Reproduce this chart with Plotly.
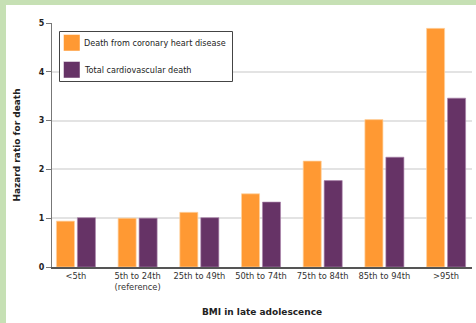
import plotly.graph_objects as go

categories = ["<5th", "5th to 24th<br>(reference)", "25th to 49th", "50th to 74th",
              "75th to 84th", "85th to 94th", ">95th"]
chd = [0.94, 1.00, 1.12, 1.50, 2.17, 3.02, 4.89]
cvd = [1.01, 1.00, 1.01, 1.33, 1.77, 2.25, 3.46]
series_names = ["Death from coronary heart disease", "Total cardiovascular death"]
colors = ["#FF9933", "#663366"]
y_ticks = [0, 1, 2, 3, 4, 5]

FONT = "DejaVu Sans"
W, H = 476, 323
ML, MR, MT, MB = 52, 4, 23, 56
pw, ph = W - ML - MR, H - MT - MB

def px2paper_x(px):
    return (px - ML) / pw

def px2paper_y(py):
    return (H - MB - py) / ph

fig = go.Figure()
fig.add_trace(go.Bar(x=list(range(len(categories))), y=chd, name=series_names[0],
                     marker=dict(color=colors[0], line=dict(color="rgba(255,210,160,0.9)", width=0.8)),
                     showlegend=False))
fig.add_trace(go.Bar(x=list(range(len(categories))), y=cvd, name=series_names[1],
                     marker=dict(color=colors[1], line=dict(color="rgba(170,130,170,0.8)", width=0.8)),
                     showlegend=False))

def rect(x0, y0, x1, y1, fill, line_color=None, lw=0, layer="above"):
    return dict(type="rect", xref="paper", yref="paper",
                x0=px2paper_x(x0), x1=px2paper_x(x1),
                y0=px2paper_y(y1), y1=px2paper_y(y0),
                fillcolor=fill, line=dict(color=line_color or fill, width=lw), layer=layer)

shapes = [rect(6, 5, W + 5, H + 5, "white", layer="below"),
          rect(59.5, 31.5, 232.5, 81.5, "white", "#444", 1)]
annotations = []
sw_y = [34.5, 61.5]
for i, name in enumerate(series_names):
    shapes.append(rect(63.5, sw_y[i], 80, sw_y[i] + 16.5, colors[i],
                       "rgba(255,255,255,0.6)", 0.8))
    annotations.append(dict(xref="paper", yref="paper", x=px2paper_x(82),
                            y=px2paper_y(sw_y[i] + 8.5), xanchor="left", yanchor="middle",
                            text=name, showarrow=False,
                            font=dict(family=FONT, size=8.1, color="#222")))

fig.update_layout(
    width=W, height=H,
    margin=dict(l=ML, r=MR, t=MT, b=MB),
    paper_bgcolor="#C6E0B4",
    plot_bgcolor="white",
    barmode="group", bargap=0.32, bargroupgap=0.14,
    font=dict(family=FONT, size=8, color="#222"),
    showlegend=False,
    shapes=shapes,
    annotations=annotations,
)
fig.update_xaxes(
    tickmode="array", tickvals=list(range(len(categories))), ticktext=categories,
    range=[-0.388, 6.42], showline=True, linecolor="#555", linewidth=1.5,
    ticks="", showgrid=False, zeroline=False,
    tickfont=dict(family=FONT, size=8.3, color="#333"),
    title=dict(text="<b>BMI in late adolescence</b>", font=dict(family=FONT, size=9, color="#222"),
               standoff=18),
)
fig.update_yaxes(
    range=[0, 5], tickvals=y_ticks, ticktext=[f"<b>{t}</b>" for t in y_ticks],
    showline=True, linecolor="#777", linewidth=1,
    ticks="outside", ticklen=5, tickcolor="#777",
    showgrid=True, gridcolor="#e3e3e3", gridwidth=1.5, zeroline=False,
    tickfont=dict(family=FONT, size=8, color="#222"),
    title=dict(text="<b>Hazard ratio for death</b>", font=dict(family=FONT, size=9, color="#222"),
               standoff=16),
)
fig.write_html("out.html")
